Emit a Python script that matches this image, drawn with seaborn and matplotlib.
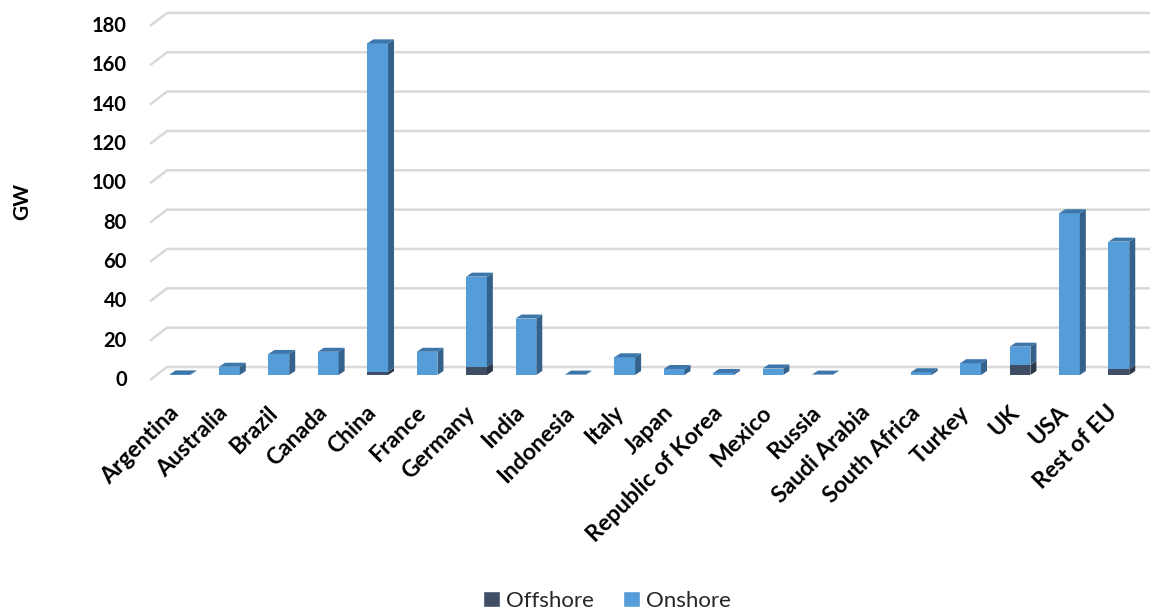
import numpy as np
import pandas as pd
import matplotlib
matplotlib.use("Agg")
import matplotlib.pyplot as plt
import matplotlib.transforms as mtransforms
from matplotlib.patches import Polygon, Patch
import seaborn as sns

# Installed wind capacity (GW) by country
countries = ["Argentina", "Australia", "Brazil", "Canada", "China", "France",
             "Germany", "India", "Indonesia", "Italy", "Japan",
             "Republic of Korea", "Mexico", "Russia", "Saudi Arabia",
             "South Africa", "Turkey", "UK", "USA", "Rest of EU"]
offshore = [0.0, 0.0, 0.0, 0.0, 1.6, 0.0, 4.1, 0.0, 0.0, 0.0, 0.06,
            0.04, 0.0, 0.0, 0.0, 0.0, 0.0, 5.1, 0.03, 3.0]
onshore = [0.3, 4.2, 10.7, 11.8, 167.0, 11.8, 45.9, 28.7, 0.2, 9.0, 3.0,
           1.0, 3.3, 0.2, 0.0, 1.4, 6.0, 9.3, 82.2, 64.8]
yticks = [0, 20, 40, 60, 80, 100, 120, 140, 160, 180]

ON_FRONT, ON_SIDE, ON_TOP = "#559dd8", "#35628d", "#3d76aa"
OFF_FRONT, OFF_SIDE = "#3f4e64", "#2b3646"
GRID = "#d9d9d9"

sns.set_theme(style="white")
plt.rcParams["font.family"] = ["Lato", "DejaVu Sans"]

W, H, DPI = 1150, 612, 100
fig = plt.figure(figsize=(W / DPI, H / DPI), dpi=DPI)

# axes geometry in pixels
ax_left, ax_right, ax_top, ax_bottom = 150, 1150, 5, 384
ax = fig.add_axes([ax_left / W, (H - ax_bottom) / H,
                   (ax_right - ax_left) / W, (ax_bottom - ax_top) / H])

df = pd.DataFrame({"country": countries, "Offshore": offshore,
                   "Onshore": onshore})
df["Total"] = df["Offshore"] + df["Onshore"]

bar_w = 0.42
sns.barplot(data=df, x="country", y="Total", color=ON_FRONT, saturation=1,
            width=bar_w, linewidth=0, ax=ax, zorder=3)
sns.barplot(data=df, x="country", y="Offshore", color=OFF_FRONT, saturation=1,
            width=bar_w, linewidth=0, ax=ax, zorder=4)

xlim = (-0.607, 19.63)
ylim = (-4.58, 188.1)
ax.set_xlim(*xlim)
ax.set_ylim(*ylim)
px_x = (ax_right - ax_left) / (xlim[1] - xlim[0])
px_y = (ax_bottom - ax_top) / (ylim[1] - ylim[0])

# extruded depth of the columns
dx, dy = 6 / px_x, 4 / px_y


def side_face(x1, y0, y1, color):
    pts = [(x1, y0), (x1 + dx, y0 + dy), (x1 + dx, y1 + dy), (x1, y1)]
    ax.add_patch(Polygon(pts, closed=True, facecolor=color, edgecolor="none",
                         zorder=5))


def top_face(x0, x1, y, color):
    pts = [(x0, y), (x0 + dx, y + dy), (x1 + dx, y + dy), (x1, y)]
    ax.add_patch(Polygon(pts, closed=True, facecolor=color, edgecolor="none",
                         zorder=5))


for i, (off, on) in enumerate(zip(offshore, onshore)):
    x0, x1 = i - bar_w / 2, i + bar_w / 2
    if off > 0:
        side_face(x1, 0, off, OFF_SIDE)
    if on > 0:
        side_face(x1, off, off + on, ON_SIDE)
        top_face(x0, x1, off + on, ON_TOP)
    elif off > 0:
        top_face(x0, x1, off, OFF_SIDE)

# gridlines on the back wall with a slanted floor edge at the left
ytr = ax.get_yaxis_transform()
front_dy, back_dy, back_dx = -5 / px_y, 8 / px_y, 17 / (ax_right - ax_left)
for v in yticks:
    ax.plot([0, back_dx, 1], [v + front_dy, v + back_dy, v + back_dy],
            transform=ytr, color=GRID, lw=1.8, zorder=1, clip_on=False,
            solid_capstyle="butt")
    ax.text(-23 / (ax_right - ax_left), v + front_dy, str(v), transform=ytr,
            ha="right", va="center", fontsize=14.5, fontweight="bold",
            color="#000000")

ax.set_yticks([])
ax.set_xticks([])
ax.set_xlabel("")
ax.set_ylabel("")
for s in ax.spines.values():
    s.set_visible(False)

# rotated category labels
xtr = ax.get_xaxis_transform() + mtransforms.ScaledTranslation(
    -12 / DPI, -18 / DPI, fig.dpi_scale_trans)
for i, name in enumerate(countries):
    ax.text(i, 0, name, transform=xtr, rotation=45, rotation_mode="anchor",
            ha="right", va="top", fontsize=16.5, fontweight="bold",
            color="#000000")

fig.text(22 / W, 1 - 201 / H, "GW", rotation=90, ha="center", va="center",
         fontsize=15, fontweight="bold", color="#000000")

handles = [Patch(facecolor=OFF_FRONT, label="Offshore"),
           Patch(facecolor=ON_FRONT, label="Onshore")]
fig.legend(handles=handles, loc="center", bbox_to_anchor=(607 / W, 1 - 601 / H),
           ncol=2, frameon=False, fontsize=16, handlelength=0.75,
           handleheight=0.75, handletextpad=0.3, columnspacing=1.3)

fig.savefig("out.png", dpi=DPI, facecolor="white")
